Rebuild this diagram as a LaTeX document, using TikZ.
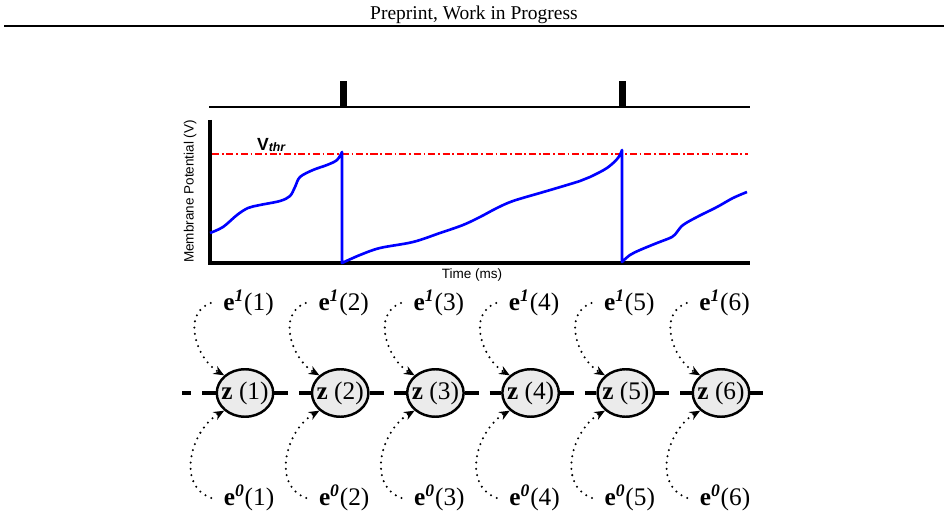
\documentclass[tikz,border=0pt]{standalone}
\usepackage{fontspec}
\setmainfont{Liberation Serif}
\setsansfont{Liberation Sans}
\usetikzlibrary{positioning, arrows.meta, shapes.geometric}
\tikzset{
    zknoten/.style   = {draw, ellipse, fill=black!8, line width=1.4pt, inner sep=0pt,
                        minimum width=1.13cm, minimum height=0.95cm},
    zlabel/.style    = {font=\fontsize{14.4}{16}\selectfont, inner sep=0pt},
    elabel/.style    = {font=\fontsize{14.4}{16}\selectfont, inner xsep=7pt},
    kette/.style     = {line width=1.8pt, dash pattern=on 7.9pt off 6.2pt},
    einfluss/.style  = {-{Stealth[length=6pt, width=5pt]}, line width=1.3pt,
                        dash pattern=on 0pt off 3.6pt, line cap=round, looseness=1.1},
    potential/.style = {blue, line width=1.5pt, line join=round},
    schwelle/.style  = {red, line width=0.8pt, dash pattern=on 4pt off 1.6pt on 1pt off 1.6pt},
    achse/.style     = {line width=1.8pt},
    beschr/.style    = {font=\sffamily\fontsize{7.7}{9}\selectfont, inner sep=0pt}
}

\begin{document}
\begin{tikzpicture}[x=0.02cm, y=0.02cm]
    \useasboundingbox (0,0) rectangle (948,518);

    % Kopfzeile
    \node[anchor=base, font=\fontsize{11.1}{13}\selectfont] (kopf) at (474,498) {Preprint, Work in Progress};
    \draw[line width=0.6pt] (4,492) -- (944,492);

    % Spikes
    \draw[line width=1.1pt] (209,411) -- (750,411);
    \fill (340,411) rectangle (347,437);
    \fill (619,411) rectangle (626,437);

    % Membranpotential
    \draw[achse] (210,398) -- (210,255) -- (750,255);
    \draw[schwelle] (212,364) -- (748,364);
    \node[beschr, font=\sffamily\fontsize{10}{11}\selectfont] (vthr) at (271.5,373)
        {\textbf{V}\raisebox{-1pt}{\fontsize{7}{8}\selectfont\textbf{\textit{thr}}}};
    \node[beschr, rotate=90] (ylab) at (190,326.5) {Membrane Potential (V)};
    \node[beschr] (xlab) at (472,243) {Time (ms)};

    \draw[potential] plot[smooth, tension=0.55] coordinates {
        (210,285) (223,291) (237,303) (248,310) (260,313) (280,317) (290,322)
        (295,331) (300,341) (313,348) (327,353) (337,358) (342,366)}
        -- plot[smooth, tension=0.55] coordinates {
        (342,255) (360,263) (380,270) (413,276) (440,285) (463,293) (480,301)
        (497,310) (513,317) (540,325) (557,330) (580,337) (590,341) (607,350)
        (618,360) (622,368)}
        -- plot[smooth, tension=0.55] coordinates {
        (622,256) (630,263) (640,268) (657,275) (672,281) (677,286) (683,293)
        (697,301) (717,311) (733,320) (747,326)};

    % Zustaende und Eingaenge
    \foreach \i in {1,...,6} {
        \node[zknoten, label={[zlabel]center:\textbf{z} (\i)}] (z\i) at ({245+95.2*(\i-1)},125) {};
        \node[elabel] (eo\i) at ({248.5+95.2*(\i-1)},215) {\textbf{e}\textsuperscript{\textbf{\textit{1}}}(\i)};
        \node[elabel] (eu\i) at ({249+95.2*(\i-1)},20) {\textbf{e}\textsuperscript{\textbf{\textit{0}}}(\i)};
        \draw[einfluss] (eo\i.west) to[out=200, in=150] (z\i.north west);
        \draw[einfluss] (eu\i.west) to[out=160, in=210] (z\i.south west);
    }

    \coordinate (links) at (182,125);
    \coordinate (rechts) at (763,125);
    \draw[kette] (z1) -- (links);
    \foreach \i/\j in {1/2, 2/3, 3/4, 4/5, 5/6}
        \draw[kette] (z\i) -- (z\j);
    \draw[kette] (z6) -- (rechts);
\end{tikzpicture}
\end{document}
